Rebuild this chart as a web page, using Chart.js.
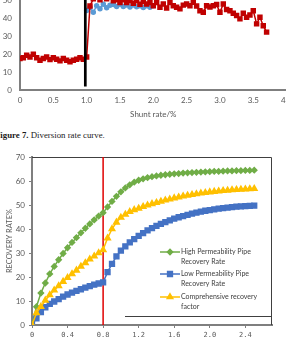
<!DOCTYPE html>
<html>
<head>
<meta charset="utf-8">
<script src="https://cdn.jsdelivr.net/npm/chart.js@4.4.1/dist/chart.umd.min.js"></script>
<style>
  html, body { margin: 0; padding: 0; background: #fff; width: 286px; height: 339px; overflow: hidden; position: relative; }
  canvas { position: absolute; left: 0; }
  #shunt { top: -30px; }
  #recovery { top: 147px; }
  .caption { position: absolute; left: -5px; top: 130px; font: 8.8px "Liberation Serif", serif; line-height: 10px; color: #1a1a1a; white-space: nowrap; }
</style>
</head>
<body>
<canvas id="shunt" width="300" height="152"></canvas>
<div class="caption"><b>Figure 7.</b> Diversion rate curve.</div>
<canvas id="recovery" width="286" height="200"></canvas>
<script>
// top chart: diversion rate vs shunt rate
const shuntRate = [0, 0.05, 0.1, 0.15, 0.2, 0.25, 0.3, 0.35, 0.4, 0.45, 0.5, 0.55, 0.6, 0.65, 0.7, 0.75, 0.8, 0.85, 0.9, 0.95, 1,
  1.05, 1.1, 1.15, 1.2, 1.25, 1.3, 1.35, 1.4, 1.45, 1.5, 1.55, 1.6, 1.65, 1.7, 1.75, 1.8, 1.85, 1.9, 1.95, 2,
  2.05, 2.1, 2.15, 2.2, 2.25, 2.3, 2.35, 2.4, 2.45, 2.5, 2.55, 2.6, 2.65, 2.7, 2.75, 2.8, 2.85, 2.9, 2.95, 3,
  3.05, 3.1, 3.15, 3.2, 3.25, 3.3, 3.35, 3.4, 3.45, 3.5, 3.55, 3.6, 3.65, 3.7];
const diversionRed = [17.6, 18.0, 19.4, 18.5, 20.0, 18.0, 16.7, 17.6, 18.5, 17.0, 18.0, 17.2, 16.3, 17.6, 16.7, 15.8, 16.7, 17.2, 18.0, 17.2, 18.5,
  47, 51, 52, 50.5, 52, 51, 52, 50, 50.5, 49, 50.5, 49, 50, 48.5, 50, 48, 49.5, 48.1, 49, 47.2,
  49, 46.3, 48.1, 45.9, 49, 47.2, 46.3, 45.4, 47.5, 48.1, 47.2, 49.1, 47.0, 44.4, 43.5, 47.2, 46.5, 47.2, 47.8, 43.5,
  48.1, 45.0, 44.4, 42.9, 41.7, 39.8, 42.9, 40.7, 42.0, 44.4, 37.0, 40.7, 36.0, 32.4];
const shuntRateBlue = [1, 1.05, 1.1, 1.15, 1.2, 1.25, 1.3, 1.35, 1.4, 1.45, 1.5, 1.55, 1.6, 1.65, 1.7, 1.75, 1.8, 1.85, 1.9, 1.95, 2];
const diversionBlue = [44.5, 46.3, 43.5, 47.2, 45.5, 48.0, 46.0, 47.5, 47.8, 46.8, 48.0, 46.8, 47.6, 46.5, 47.6, 46.6, 47.2, 46.2, 47.2, 46.3, 47.2];
const shuntMarker = 0.98;
const shuntMarkerRange = [2, 60];

// bottom chart: recovery rate vs injected volume
const injected = [0, 0.05, 0.1, 0.15, 0.2, 0.25, 0.3, 0.35, 0.4, 0.45, 0.5, 0.55, 0.6, 0.65, 0.7, 0.75, 0.8, 0.85, 0.9, 0.95, 1,
  1.05, 1.1, 1.15, 1.2, 1.25, 1.3, 1.35, 1.4, 1.45, 1.5, 1.55, 1.6, 1.65, 1.7, 1.75, 1.8, 1.85, 1.9, 1.95, 2,
  2.05, 2.1, 2.15, 2.2, 2.25, 2.3, 2.35, 2.4, 2.45, 2.5];
const highPerm = [0, 7.6, 13.3, 17.5, 21.3, 24.4, 27.2, 29.8, 32.2, 34.4, 36.4, 38.4, 40.3, 42.1, 43.8, 45.4, 46.8, 49.2, 51.5, 53.6, 55.5,
  57.1, 58.4, 59.5, 60.3, 60.9, 61.4, 61.8, 62.1, 62.4, 62.6, 62.8, 63.0, 63.1, 63.3, 63.4, 63.5, 63.6, 63.7, 63.8, 63.9,
  64.0, 64.0, 64.1, 64.2, 64.2, 64.3, 64.3, 64.4, 64.4, 64.5];
const lowPerm = [0, 2.8, 5.4, 7.4, 8.8, 9.8, 10.8, 11.8, 12.7, 13.5, 14.2, 14.9, 15.6, 16.2, 16.8, 17.3, 17.8, 22.0, 25.5, 28.6, 31.0,
  32.8, 34.4, 35.8, 37.1, 38.3, 39.4, 40.4, 41.3, 42.1, 42.9, 43.6, 44.3, 44.9, 45.4, 45.9, 46.4, 46.8, 47.2, 47.6, 47.9,
  48.2, 48.5, 48.7, 48.9, 49.1, 49.3, 49.4, 49.5, 49.6, 49.7];
const comprehensive = [0, 5.0, 7.6, 10.3, 12.5, 14.5, 16.3, 18.1, 19.7, 21.3, 22.8, 24.4, 25.9, 27.4, 28.7, 30.0, 31.3, 36.2, 40.0, 42.8, 44.8,
  46.1, 47.2, 48.0, 48.6, 49.3, 49.9, 50.5, 51.0, 51.5, 52.0, 52.4, 52.9, 53.3, 53.7, 54.0, 54.3, 54.6, 54.9, 55.1, 55.4,
  55.6, 55.8, 56.0, 56.1, 56.3, 56.4, 56.5, 56.6, 56.7, 56.8];
const switchPoint = 0.8;
const switchRange = [0, 70];
const seriesLabels = [
  ['High Permeability Pipe', 'Recovery Rate'],
  ['Low Permeability Pipe', 'Recovery Rate'],
  ['Comprehensive recovery', 'factor']
];

const sans = 'Lato, "Liberation Sans", sans-serif';
const axisGrey = '#7f7f7f';
const labelGrey = '#595959';

function xy(xs, ys) {
  return xs.map(function(x, i) { return { x: x, y: ys[i] }; });
}

new Chart(document.getElementById('shunt'), {
  type: 'line',
  data: {
    datasets: [
      {
        label: 'switch',
        data: shuntMarkerRange.map(function(v) { return { x: shuntMarker, y: v }; }),
        borderColor: '#000',
        borderWidth: 2.7,
        pointRadius: 0,
        order: 0
      },
      {
        label: 'red',
        data: xy(shuntRate, diversionRed),
        borderColor: '#c00000',
        backgroundColor: '#c00000',
        borderWidth: 1.5,
        pointStyle: 'rect',
        pointRadius: 2.8,
        order: 1
      },
      {
        label: 'blue',
        data: xy(shuntRateBlue, diversionBlue),
        borderColor: '#5b9bd5',
        backgroundColor: '#5b9bd5',
        borderWidth: 1.5,
        pointRadius: 2,
        order: 2
      }
    ]
  },
  options: {
    responsive: false,
    animation: false,
    layout: { padding: { top: 12, right: 13.4, left: 0, bottom: 0 } },
    plugins: { legend: { display: false }, tooltip: { enabled: false } },
    scales: {
      x: {
        type: 'linear', min: 0, max: 4,
        ticks: { stepSize: 0.5, padding: 6, color: labelGrey, font: { family: sans, size: 8 } },
        grid: { display: false, drawTicks: false },
        border: { color: axisGrey, width: 2 },
        title: { display: true, text: 'Shunt rate/%', color: labelGrey, font: { family: sans, size: 8 }, padding: { top: 0, bottom: 3 } },
        afterFit: function(s) { s.height = 32; }
      },
      y: {
        min: 0, max: 60,
        ticks: { stepSize: 10, padding: 8, color: labelGrey, font: { family: sans, size: 8 } },
        grid: { display: false, drawTicks: false },
        border: { color: axisGrey, width: 2 },
        afterFit: function(s) { s.width = 20; }
      }
    }
  }
});

// top and right edges of the plot box
const frame = {
  id: 'frame',
  beforeDatasetsDraw(chart) {
    const { ctx, chartArea: a } = chart;
    ctx.save();
    ctx.strokeStyle = '#404040';
    ctx.lineWidth = 1;
    ctx.beginPath();
    ctx.moveTo(a.left, a.top + 0.5);
    ctx.lineTo(a.right - 0.5, a.top + 0.5);
    ctx.lineTo(a.right - 0.5, a.bottom);
    ctx.stroke();
    ctx.restore();
  }
};

// legend drawn inside the plot, two text lines per entry
const insideLegend = {
  id: 'insideLegend',
  afterDatasetsDraw(chart) {
    const { ctx, chartArea: a } = chart;
    const rows = [95, 117, 140];
    ctx.save();
    chart.data.datasets.slice(0, 3).forEach(function(ds, i) {
      const y = a.top + rows[i];
      ctx.strokeStyle = ds.borderColor;
      ctx.fillStyle = ds.backgroundColor;
      ctx.lineWidth = 1.5;
      ctx.beginPath();
      ctx.moveTo(a.right - 112, y);
      ctx.lineTo(a.right - 92, y);
      ctx.stroke();
      Chart.helpers.drawPoint(ctx, { pointStyle: ds.pointStyle, radius: ds.pointRadius, borderWidth: 1, rotation: 0 }, a.right - 102, y);
      ctx.fillStyle = '#404040';
      ctx.font = '7px ' + sans;
      ctx.textBaseline = 'middle';
      seriesLabels[i].forEach(function(line, k) {
        ctx.fillText(line, a.right - 91, y + k * 10);
      });
    });
    ctx.strokeStyle = '#404040';
    ctx.lineWidth = 1;
    ctx.beginPath();
    ctx.moveTo(a.right - 147, a.top + 159.5);
    ctx.lineTo(a.right, a.top + 159.5);
    ctx.stroke();
    ctx.restore();
  }
};

new Chart(document.getElementById('recovery'), {
  type: 'line',
  data: {
    datasets: [
      {
        label: seriesLabels[0].join(' '),
        data: xy(injected, highPerm),
        borderColor: '#70ad47',
        backgroundColor: '#70ad47',
        borderWidth: 1.5,
        pointStyle: 'rectRot',
        pointRadius: 2.6,
        order: 3
      },
      {
        label: seriesLabels[1].join(' '),
        data: xy(injected, lowPerm),
        borderColor: '#4472c4',
        backgroundColor: '#4472c4',
        borderWidth: 1.5,
        pointStyle: 'rect',
        pointRadius: 3.4,
        order: 2
      },
      {
        label: seriesLabels[2].join(' '),
        data: xy(injected, comprehensive),
        borderColor: '#ffc000',
        backgroundColor: '#ffc000',
        borderWidth: 1.5,
        pointStyle: 'triangle',
        pointRadius: 3.2,
        order: 1
      },
      {
        label: 'switch',
        data: switchRange.map(function(v) { return { x: switchPoint, y: v }; }),
        borderColor: '#e00000',
        borderWidth: 1.5,
        pointRadius: 0,
        order: 10
      }
    ]
  },
  options: {
    responsive: false,
    animation: false,
    layout: { padding: { top: 10, right: 14, left: 0, bottom: 0 } },
    plugins: { legend: { display: false }, tooltip: { enabled: false } },
    scales: {
      x: {
        type: 'linear', min: 0, max: 2.7,
        ticks: { stepSize: 0.4, includeBounds: false, padding: 3, color: labelGrey, font: { family: '"DejaVu Sans Mono", monospace', size: 7 } },
        grid: { drawOnChartArea: false, tickLength: 3, color: axisGrey },
        border: { color: axisGrey, width: 2 },
        afterFit: function(s) { s.height = 22; }
      },
      y: {
        min: 0, max: 70,
        ticks: { stepSize: 10, padding: 4, color: labelGrey, font: { family: sans, size: 8 } },
        grid: { drawOnChartArea: false, tickLength: 3, color: axisGrey },
        border: { color: axisGrey, width: 2 },
        title: { display: true, text: 'RECOVERY RATE%', color: labelGrey, font: { family: sans, size: 7.5 }, padding: { top: 5, bottom: 0 } },
        afterFit: function(s) { s.width = 32; }
      }
    }
  },
  plugins: [frame, insideLegend]
});
</script>
</body>
</html>
